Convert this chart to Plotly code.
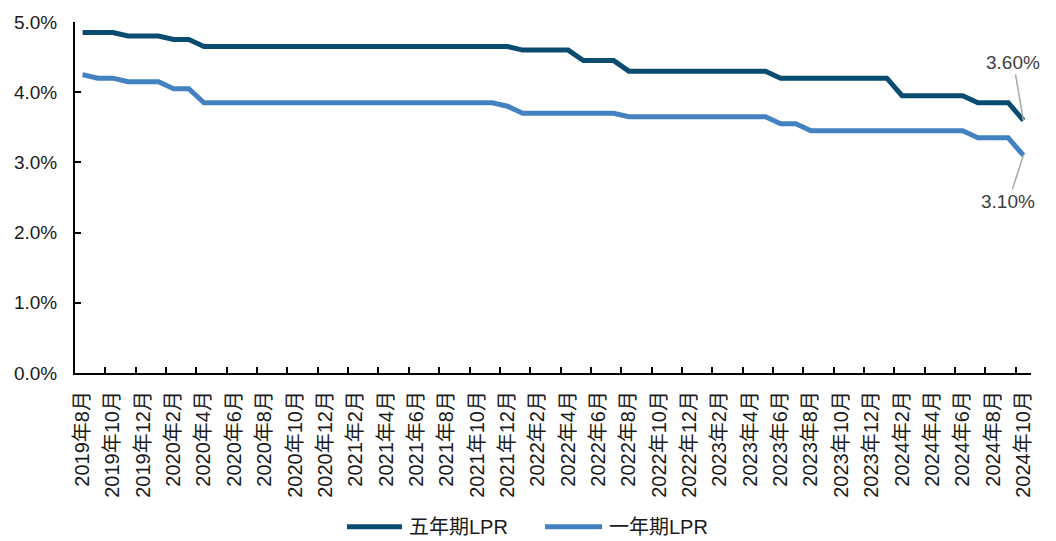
import plotly.graph_objects as go

# Monthly LPR quotes, Aug 2019 - Oct 2024 (percent)
years = [2019] * 5 + [2020] * 12 + [2021] * 12 + [2022] * 12 + [2023] * 12 + [2024] * 10
months = list(range(8, 13)) + list(range(1, 13)) * 4 + list(range(1, 11))
month_labels = [f"{y}年{m}月" for y, m in zip(years, months)]

lpr_5y = [
    4.85, 4.85, 4.85, 4.80, 4.80,                                            # 2019
    4.80, 4.75, 4.75, 4.65, 4.65, 4.65, 4.65, 4.65, 4.65, 4.65, 4.65, 4.65,  # 2020
    4.65, 4.65, 4.65, 4.65, 4.65, 4.65, 4.65, 4.65, 4.65, 4.65, 4.65, 4.65,  # 2021
    4.60, 4.60, 4.60, 4.60, 4.45, 4.45, 4.45, 4.30, 4.30, 4.30, 4.30, 4.30,  # 2022
    4.30, 4.30, 4.30, 4.30, 4.30, 4.20, 4.20, 4.20, 4.20, 4.20, 4.20, 4.20,  # 2023
    4.20, 3.95, 3.95, 3.95, 3.95, 3.95, 3.85, 3.85, 3.85, 3.60,              # 2024
]
lpr_1y = [
    4.25, 4.20, 4.20, 4.15, 4.15,                                            # 2019
    4.15, 4.05, 4.05, 3.85, 3.85, 3.85, 3.85, 3.85, 3.85, 3.85, 3.85, 3.85,  # 2020
    3.85, 3.85, 3.85, 3.85, 3.85, 3.85, 3.85, 3.85, 3.85, 3.85, 3.85, 3.80,  # 2021
    3.70, 3.70, 3.70, 3.70, 3.70, 3.70, 3.70, 3.65, 3.65, 3.65, 3.65, 3.65,  # 2022
    3.65, 3.65, 3.65, 3.65, 3.65, 3.55, 3.55, 3.45, 3.45, 3.45, 3.45, 3.45,  # 2023
    3.45, 3.45, 3.45, 3.45, 3.45, 3.45, 3.35, 3.35, 3.35, 3.10,              # 2024
]
y_ticks = [0, 1, 2, 3, 4, 5]

series_names = ["五年期LPR", "一年期LPR"]
colors = ["#0A4C70", "#4381C1"]

FONT = "Arial, 'Liberation Sans', 'Noto Sans CJK SC', sans-serif"
W, H = 1056, 541
M_L, M_R, M_T, M_B = 75, 25, 19, 168

x = list(range(len(month_labels)))

fig = go.Figure()
for name, vals, col in zip(series_names, [lpr_5y, lpr_1y], colors):
    fig.add_trace(go.Scatter(
        x=x, y=vals, name=name, mode="lines",
        line=dict(color=col, width=5), showlegend=False,
    ))

# end-point value labels with leader lines
last = len(x) - 1
fig.add_annotation(x=last, y=lpr_5y[-1], text=f"{lpr_5y[-1]:.2f}%",
                   showarrow=True, arrowhead=0, arrowwidth=1.5, arrowcolor="#A6A6A6",
                   ax=-10, ay=-58, standoff=0,
                   font=dict(family=FONT, size=19, color="#404040"))
fig.add_annotation(x=last, y=lpr_1y[-1], text=f"{lpr_1y[-1]:.2f}%",
                   showarrow=True, arrowhead=0, arrowwidth=1.5, arrowcolor="#A6A6A6",
                   ax=-15, ay=46, standoff=0,
                   font=dict(family=FONT, size=19, color="#404040"))

# legend drawn below the axis, in pixel positions converted to paper space
pw, ph = W - M_L - M_R, H - M_T - M_B


def px_x(v):
    return (v - M_L) / pw


def px_y(v):
    return (H - M_B - v) / ph


legend_items = [(347, 402, 407), (545, 602, 607)]
for (x0, x1, tx), name, col in zip(legend_items, series_names, colors):
    fig.add_shape(type="line", xref="paper", yref="paper",
                  x0=px_x(x0), x1=px_x(x1), y0=px_y(528), y1=px_y(528),
                  line=dict(color=col, width=5))
    fig.add_annotation(xref="paper", yref="paper", x=px_x(tx), y=px_y(528),
                       text=name, showarrow=False, xanchor="left", yanchor="middle",
                       font=dict(family=FONT, size=20, color="#1a1a1a"))

fig.update_layout(
    width=W, height=H,
    margin=dict(l=M_L, r=M_R, t=M_T, b=M_B),
    plot_bgcolor="white", paper_bgcolor="white",
    font=dict(family=FONT, size=19, color="#1a1a1a"),
    xaxis=dict(
        range=[-0.5, last + 0.5],
        tickmode="array", tickvals=x[::2], ticktext=month_labels[::2],
        tickangle=-90, ticks="", ticklabelstandoff=8,
        showgrid=False, zeroline=False,
        showline=True, linecolor="black", linewidth=2,
        tickfont=dict(family=FONT, size=20, color="#1a1a1a"),
        minor=dict(tickmode="array", tickvals=[i + 1.5 for i in x[:-1:2]],
                   ticks="inside", ticklen=6, tickwidth=2, tickcolor="black",
                   showgrid=False),
    ),
    yaxis=dict(
        range=[0, 5],
        tickmode="array", tickvals=y_ticks,
        ticktext=[f"{v:.1f}%" for v in y_ticks],
        ticks="inside", ticklen=6, tickwidth=2, tickcolor="black",
        ticklabelstandoff=12,
        showgrid=False, zeroline=False,
        showline=True, linecolor="black", linewidth=2,
        tickfont=dict(family=FONT, size=19, color="#1a1a1a"),
    ),
)

fig.write_html("out.html")
